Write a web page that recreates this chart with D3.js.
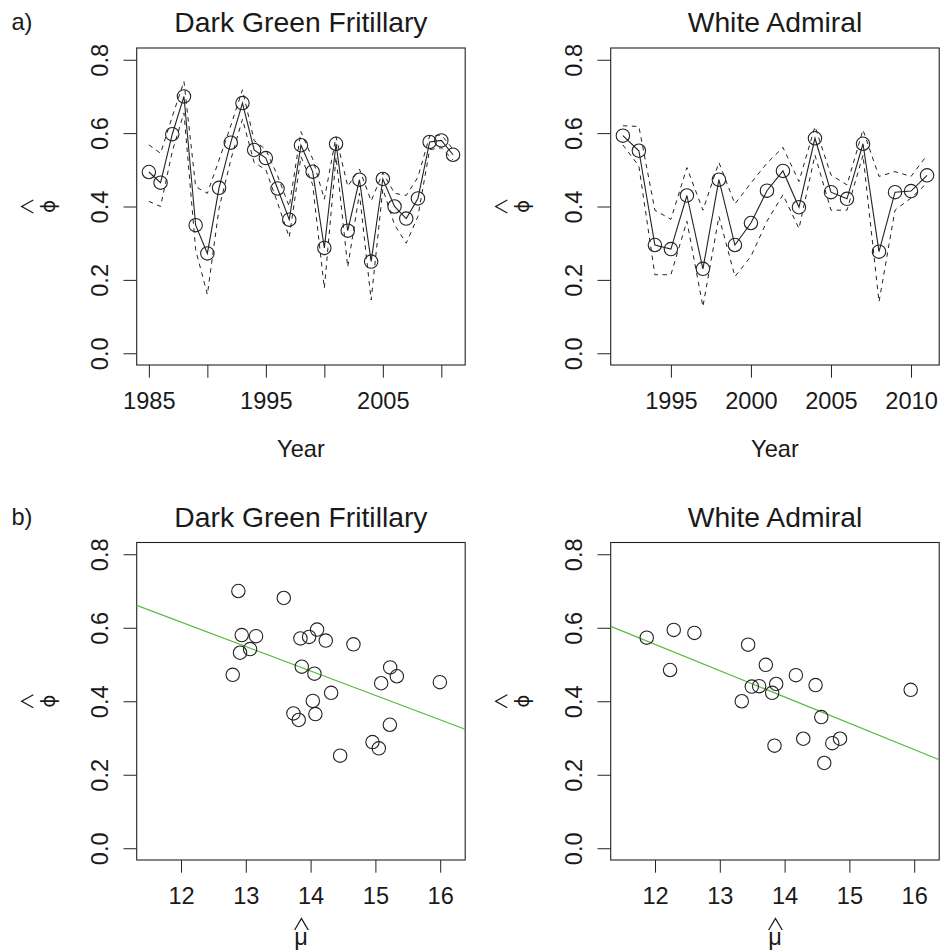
<!DOCTYPE html>
<html>
<head>
<meta charset="utf-8">
<script src="https://cdn.jsdelivr.net/npm/d3@7"></script>
<style>
  body { margin: 0; background: #fff; }
  svg text { font-family: "Liberation Sans", Arial, Helvetica, sans-serif; fill: #1a1a1a; }
</style>
</head>
<body>
<svg id="chart" width="940" height="951"></svg>
<script>
// a) survival estimates per year, with dashed upper / lower bounds
const dgfYears = [1985, 1986, 1987, 1988, 1989, 1990, 1991, 1992, 1993, 1994, 1995, 1996, 1997, 1998,
                  1999, 2000, 2001, 2002, 2003, 2004, 2005, 2006, 2007, 2008, 2009, 2010, 2011];
const dgfPhi   = [0.494, 0.465, 0.597, 0.700, 0.349, 0.272, 0.451, 0.574, 0.682, 0.554, 0.532, 0.449, 0.364, 0.567,
                  0.495, 0.287, 0.571, 0.334, 0.473, 0.250, 0.475, 0.400, 0.367, 0.422, 0.576, 0.580, 0.541];
const dgfUpper = [0.568, 0.545, 0.645, 0.741, 0.454, 0.436, 0.527, 0.620, 0.718, 0.580, 0.555, 0.484, 0.400, 0.604,
                  0.530, 0.420, 0.590, 0.455, 0.502, 0.415, 0.492, 0.436, 0.430, 0.480, 0.592, 0.595, 0.556];
const dgfLower = [0.414, 0.400, 0.550, 0.655, 0.282, 0.160, 0.395, 0.527, 0.638, 0.520, 0.500, 0.410, 0.316, 0.536,
                  0.460, 0.177, 0.535, 0.235, 0.436, 0.145, 0.448, 0.350, 0.300, 0.373, 0.555, 0.560, 0.527];

const waYears = [1992, 1993, 1994, 1995, 1996, 1997, 1998, 1999, 2000, 2001,
                 2002, 2003, 2004, 2005, 2006, 2007, 2008, 2009, 2010, 2011];
const waPhi   = [0.593, 0.552, 0.295, 0.284, 0.430, 0.230, 0.473, 0.295, 0.355, 0.443,
                 0.497, 0.398, 0.586, 0.439, 0.421, 0.571, 0.277, 0.439, 0.442, 0.485];
const waUpper = [0.620, 0.618, 0.390, 0.365, 0.506, 0.390, 0.520, 0.407, 0.464, 0.518,
                 0.561, 0.468, 0.618, 0.486, 0.459, 0.609, 0.482, 0.495, 0.482, 0.540];
const waLower = [0.568, 0.510, 0.214, 0.214, 0.360, 0.127, 0.373, 0.209, 0.264, 0.360,
                 0.432, 0.340, 0.540, 0.390, 0.390, 0.540, 0.140, 0.390, 0.423, 0.464];

// b) survival against mu-hat, with fitted line (intercept, slope)
const dgfMu    = [12.885, 13.586, 12.937, 13.158, 12.911, 13.066, 12.798, 13.843, 13.977, 14.100, 14.234, 14.661, 13.864, 14.059,
                  15.228, 15.331, 15.089, 15.995, 14.317, 14.034, 13.735, 13.817, 14.074, 15.223, 14.955, 15.053, 14.456];
const dgfMuPhi = [0.700, 0.681, 0.580, 0.577, 0.532, 0.542, 0.472, 0.571, 0.575, 0.595, 0.565, 0.555, 0.494, 0.475,
                  0.492, 0.468, 0.449, 0.452, 0.423, 0.401, 0.367, 0.349, 0.365, 0.336, 0.289, 0.272, 0.252];
const dgfFit = [1.4135, -0.0665];

const waMu    = [11.872, 12.289, 12.608, 12.232, 13.437, 13.710, 14.174, 14.478, 13.494, 13.607,
                 13.870, 13.808, 13.339, 15.946, 14.566, 14.288, 14.855, 14.736, 13.844, 14.612];
const waMuPhi = [0.573, 0.594, 0.586, 0.485, 0.554, 0.499, 0.471, 0.444, 0.440, 0.441,
                 0.447, 0.423, 0.400, 0.431, 0.357, 0.298, 0.298, 0.286, 0.279, 0.232];
const waFit = [1.414, -0.0716];

const phiTicks = [0, 0.2, 0.4, 0.6, 0.8];
const dgfYearTicks = [1985, 1990, 1995, 2000, 2005, 2010];
const dgfYearLabels = ["1985", "", "1995", "", "2005", ""];
const waYearTicks = [1995, 2000, 2005, 2010];
const waYearLabels = ["1995", "2000", "2005", "2010"];
const muTicks = [12, 13, 14, 15, 16];
const muLabels = ["12", "13", "14", "15", "16"];

const svg = d3.select("#chart");
svg.append("rect").attr("width", 940).attr("height", 951).attr("fill", "white");

const ink = "#222";
const fontSize = 23.6;
const panelW = 328.5;
const cols = [136.7, 610.7];
const rows = [{ top: 48, h: 317 }, { top: 542.5, h: 317.5 }];

// plotmath-style hat, drawn as a stroke like R does
function hat(g, cx, base, apex, half) {
    g.append("path")
        .attr("d", `M${cx - half},${base}L${cx},${apex}L${cx + half},${base}`)
        .attr("fill", "none")
        .attr("stroke", "#1a1a1a")
        .attr("stroke-width", 1.3);
}

function panel(col, row, title, xDomain, xTicks, xLabels) {
    const left = cols[col], top = rows[row].top, h = rows[row].h;
    const g = svg.append("g").attr("transform", `translate(${left},${top})`);

    const x = d3.scaleLinear().domain(xDomain).range([0, panelW]);
    const y = d3.scaleLinear().domain([-0.032, 0.832]).range([h, 0]);

    // x axis
    const xa = g.append("g")
        .attr("transform", `translate(0,${h})`)
        .call(d3.axisBottom(x).tickValues(xTicks).tickFormat((d, i) => xLabels[i]).tickSize(12.7));
    xa.select(".domain").remove();
    xa.selectAll("line").attr("stroke", ink);
    xa.selectAll("text")
        .attr("y", 44.3)
        .attr("dy", null)
        .attr("font-size", fontSize)
        .style("fill", "#1a1a1a");

    // y axis, labels parallel to the axis
    const ya = g.append("g")
        .call(d3.axisLeft(y).tickValues(phiTicks).tickFormat(d3.format(".1f")).tickSize(13.2));
    ya.select(".domain").remove();
    ya.selectAll("line").attr("stroke", ink);
    ya.selectAll("text")
        .attr("x", null)
        .attr("dy", null)
        .attr("text-anchor", "middle")
        .attr("transform", "translate(-28.4,0) rotate(-90)")
        .attr("font-size", fontSize)
        .style("fill", "#1a1a1a");

    // box
    g.append("rect")
        .attr("width", panelW).attr("height", h)
        .attr("fill", "none")
        .attr("stroke", ink)
        .attr("stroke-width", 1.1);

    g.append("text")
        .attr("x", panelW / 2)
        .attr("y", -16)
        .attr("text-anchor", "middle")
        .attr("font-size", 28.3)
        .text(title);

    // phi-hat y label, rotated
    const lab = svg.append("g")
        .attr("transform", `translate(${left - 86.7},${top + h / 2}) rotate(-90)`);
    lab.append("text")
        .attr("text-anchor", "middle")
        .attr("y", 5.2)
        .attr("font-size", 20)
        .style("font-family", "'DejaVu Sans', sans-serif")
        .text("ϕ");
    hat(lab, 0, -16.7, -28.3, 6.5);

    return { g, x, y, h };
}

function timePanel(p, years, phi, upper, lower) {
    const pts = years.map((yr, i) => ({ yr, phi: phi[i], up: upper[i], lo: lower[i] }));
    const layer = p.g.append("g");

    for (const key of ["up", "lo"]) {
        layer.append("path")
            .datum(pts)
            .attr("fill", "none")
            .attr("stroke", ink)
            .attr("stroke-width", 1)
            .attr("stroke-dasharray", "4.5,4.5")
            .attr("d", d3.line().x(d => p.x(d.yr)).y(d => p.y(d[key])));
    }

    layer.append("path")
        .datum(pts)
        .attr("fill", "none")
        .attr("stroke", ink)
        .attr("stroke-width", 1.1)
        .attr("d", d3.line().x(d => p.x(d.yr)).y(d => p.y(d.phi)));

    layer.selectAll("circle")
        .data(pts)
        .join("circle")
        .attr("cx", d => p.x(d.yr))
        .attr("cy", d => p.y(d.phi))
        .attr("r", 6.7)
        .attr("fill", "none")
        .attr("stroke", ink)
        .attr("stroke-width", 1.1);

    p.g.append("text")
        .attr("x", panelW / 2)
        .attr("y", p.h + 92)
        .attr("text-anchor", "middle")
        .attr("font-size", fontSize)
        .text("Year");
}

function muPanel(p, mu, phi, fit) {
    const xs = p.x.domain();
    p.g.append("line")
        .attr("x1", p.x(xs[0])).attr("y1", p.y(fit[0] + fit[1] * xs[0]))
        .attr("x2", p.x(xs[1])).attr("y2", p.y(fit[0] + fit[1] * xs[1]))
        .attr("stroke", "#5db946")
        .attr("stroke-width", 1.3);

    p.g.selectAll("circle.pt")
        .data(mu.map((m, i) => ({ m, phi: phi[i] })))
        .join("circle")
        .attr("class", "pt")
        .attr("cx", d => p.x(d.m))
        .attr("cy", d => p.y(d.phi))
        .attr("r", 6.7)
        .attr("fill", "none")
        .attr("stroke", ink)
        .attr("stroke-width", 1.1);

    // mu-hat x label
    p.g.append("text")
        .attr("x", panelW / 2)
        .attr("y", p.h + 84.5)
        .attr("text-anchor", "middle")
        .attr("font-size", fontSize)
        .text("μ");
    hat(p.g, panelW / 2 + 0.5, p.h + 70, p.h + 58.5, 6.8);
}

const muDomain = [11.316, 16.386];

timePanel(panel(0, 0, "Dark Green Fritillary", [1983.96, 2012.04], dgfYearTicks, dgfYearLabels),
    dgfYears, dgfPhi, dgfUpper, dgfLower);
timePanel(panel(1, 0, "White Admiral", [1991.24, 2011.76], waYearTicks, waYearLabels),
    waYears, waPhi, waUpper, waLower);
muPanel(panel(0, 1, "Dark Green Fritillary", muDomain, muTicks, muLabels), dgfMu, dgfMuPhi, dgfFit);
muPanel(panel(1, 1, "White Admiral", muDomain, muTicks, muLabels), waMu, waMuPhi, waFit);

// panel tags
svg.append("text").attr("x", 11.5).attr("y", 30).attr("font-size", fontSize).text("a)");
svg.append("text").attr("x", 11.5).attr("y", 525).attr("font-size", fontSize).text("b)");
</script>
</body>
</html>
